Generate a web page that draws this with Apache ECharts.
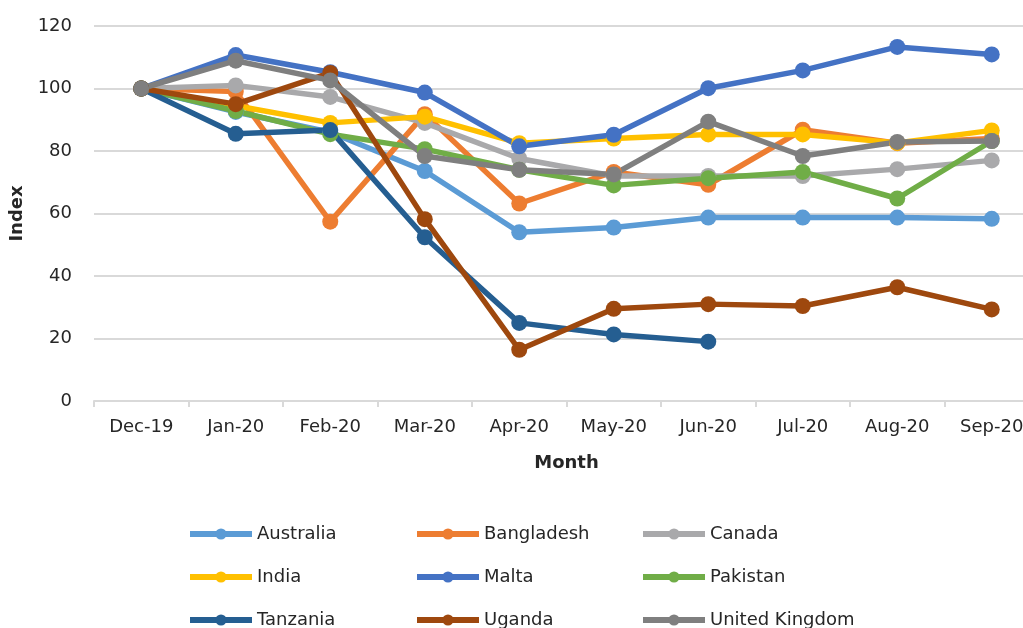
<!DOCTYPE html>
<html><head><meta charset="utf-8">
<script src="https://cdn.jsdelivr.net/npm/echarts@6/dist/echarts.min.js"></script>
<style>html,body{margin:0;padding:0;background:#fff}#c{width:1023px;height:628px}</style>
</head><body><div id="c"></div>
<script>
const months = ['Dec-19','Jan-20','Feb-20','Mar-20','Apr-20','May-20','Jun-20','Jul-20','Aug-20','Sep-20'];
const yTicks = [0,20,40,60,80,100,120];
const australia  = [100, 92.5, 86, 73.6, 54, 55.5, 58.7, 58.7, 58.7, 58.3];
const bangladesh = [100, 99, 57.4, 91.8, 63.2, 73.3, 69.2, 86.8, 82.5, 84];
const canada     = [100, 101, 97.3, 89, 77.6, 72, 72, 72, 74.2, 77];
const india      = [100, 94.5, 89, 91, 82.5, 84, 85.3, 85.3, 82.6, 86.6];
const malta      = [100, 110.7, 105.2, 98.7, 81.5, 85.2, 100.1, 105.8, 113.3, 110.9];
const pakistan   = [100, 92.8, 85.4, 80.6, 74, 69, 71.3, 73.3, 64.8, 83.2];
const tanzania   = [100, 85.5, 86.7, 52.4, 25, 21.3, 19, null, null, null];
const uganda     = [100, 95, 105, 58.2, 16.4, 29.5, 31, 30.4, 36.4, 29.3];
const uk         = [100, 108.9, 102.6, 78.4, 74, 72.5, 89.4, 78.4, 82.9, 83.2];

const names = ['Australia','Bangladesh','Canada','India','Malta','Pakistan','Tanzania','Uganda','United Kingdom'];
const datas = [australia,bangladesh,canada,india,malta,pakistan,tanzania,uganda,uk];
const colors = ['#5B9BD5','#ED7D31','#A9A9AB','#FFC000','#4472C4','#70AD47','#255E91','#9E480E','#7F7F7F'];
const FONT = '"DejaVu Sans",sans-serif';

const series = names.map((n,i)=>({
  name:n, type:'line', data:datas[i], symbol:'circle', symbolSize:16,
  lineStyle:{width:5.5,color:colors[i]}, itemStyle:{color:colors[i]},
  emphasis:{disabled:true}, animation:false, connectNulls:false
}));

const colX = [182, 409, 635];
const rowY = [532, 575, 618];
const legends = names.map((n,i)=>({
  orient:'horizontal', left:colX[i%3], top:rowY[Math.floor(i/3)]-7-5,
  itemWidth:62, itemHeight:14, itemGap:0, data:[n],
  lineStyle:{width:6},
  textStyle:{fontFamily:FONT,fontSize:18,color:'#262626'}
}));

const chart = echarts.init(document.getElementById('c'),null,{renderer:'canvas'});
chart.setOption({
  animation:false,
  color:colors,
  grid:{left:94,width:945,top:26,bottom:227,containLabel:false,outerBoundsMode:'none'},
  legend:legends,
  xAxis:{type:'category',data:months,boundaryGap:true,
    name:'Month',nameLocation:'middle',nameGap:53,
    nameTextStyle:{fontFamily:FONT,fontSize:18,fontWeight:'bold',color:'#262626'},
    axisLine:{lineStyle:{color:'#D9D9D9',width:2}},
    axisTick:{show:true,length:6,lineStyle:{color:'#D9D9D9',width:2}},
    axisLabel:{fontFamily:FONT,fontSize:18,color:'#262626',margin:17,hideOverlap:false}},
  yAxis:{type:'value',min:0,max:120,interval:20,
    name:'Index',nameLocation:'middle',nameGap:66,nameRotate:90,
    nameTextStyle:{fontFamily:FONT,fontSize:18,fontWeight:'bold',color:'#262626'},
    axisLine:{show:false},axisTick:{show:false},
    splitLine:{lineStyle:{color:'#D9D9D9',width:2}},
    axisLabel:{fontFamily:FONT,fontSize:18,color:'#262626',margin:22,
      formatter:v=>yTicks.includes(v)?String(v):''}},
  series:series
});
</script></body></html>
